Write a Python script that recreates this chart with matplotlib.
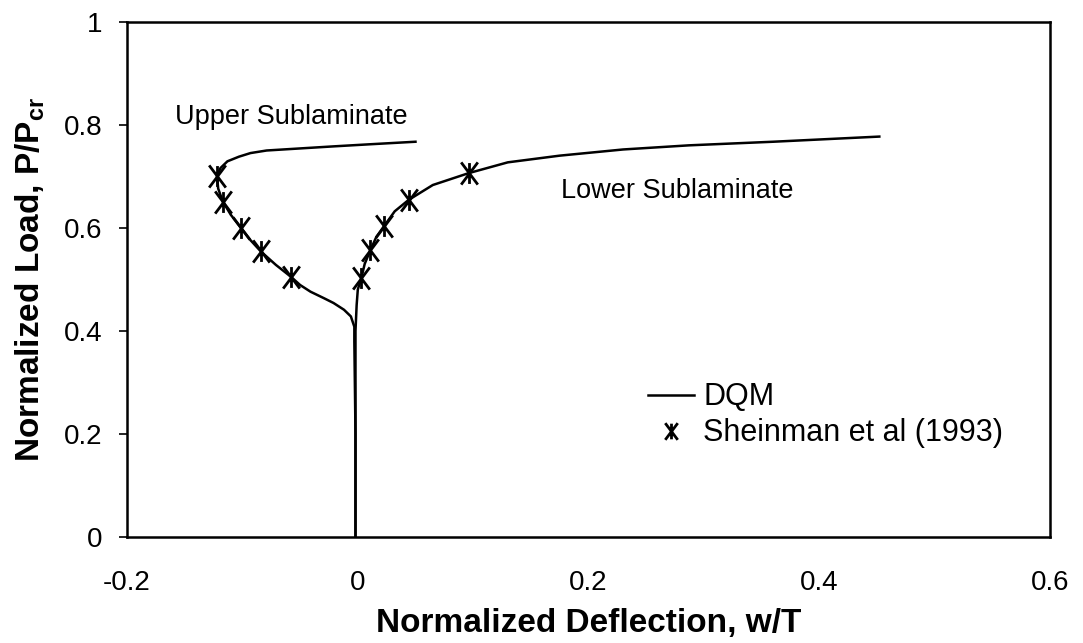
import matplotlib
matplotlib.use("Agg")
import matplotlib.pyplot as plt
from matplotlib.path import Path
from matplotlib.lines import Line2D

plt.rcParams['font.family'] = ['Liberation Sans', 'DejaVu Sans']
plt.rcParams['mathtext.fontset'] = 'custom'
plt.rcParams['mathtext.rm'] = 'Liberation Sans:bold'

# ---- data ----
upper_dqm_x = [-0.002, -0.002, -0.003, -0.003, -0.006, -0.012, -0.021, -0.029, -0.041, -0.050,
               -0.058, -0.071, -0.084, -0.093, -0.101, -0.110, -0.117, -0.121, -0.122,
               -0.119, -0.113, -0.103, -0.093, -0.079, -0.050, -0.021, 0.010, 0.050]
upper_dqm_y = [0.000, 0.200, 0.380, 0.408, 0.428, 0.441, 0.454, 0.463, 0.476, 0.489,
               0.505, 0.528, 0.554, 0.576, 0.599, 0.625, 0.651, 0.676, 0.700,
               0.716, 0.729, 0.738, 0.745, 0.750, 0.754, 0.758, 0.762, 0.767]

lower_dqm_x = [-0.002, -0.002, -0.002, -0.001, 0.000, 0.003, 0.006, 0.011, 0.016, 0.023,
               0.032, 0.044, 0.065, 0.096, 0.130, 0.175, 0.230, 0.287, 0.360, 0.452]
lower_dqm_y = [0.000, 0.200, 0.400, 0.450, 0.480, 0.502, 0.530, 0.557, 0.582, 0.604,
               0.632, 0.654, 0.683, 0.706, 0.727, 0.740, 0.752, 0.760, 0.767, 0.777]

upper_ref_x = [-0.122, -0.117, -0.101, -0.084, -0.058]
upper_ref_y = [0.701, 0.651, 0.599, 0.554, 0.505]
lower_ref_x = [0.003, 0.011, 0.023, 0.044, 0.096]
lower_ref_y = [0.502, 0.557, 0.604, 0.654, 0.706]

x_ticks = [-0.2, 0.0, 0.2, 0.4, 0.6]
x_tick_labels = ['-0.2', '0', '0.2', '0.4', '0.6']
y_ticks = [0.0, 0.2, 0.4, 0.6, 0.8, 1.0]
y_tick_labels = ['0', '0.2', '0.4', '0.6', '0.8', '1']

# ---- marker: X with vertical bar ----
star = Path([(-0.6, -0.8), (0.6, 0.8), (-0.6, 0.8), (0.6, -0.8), (0, -0.75), (0, 0.75)],
            [Path.MOVETO, Path.LINETO, Path.MOVETO, Path.LINETO, Path.MOVETO, Path.LINETO])

fig = plt.figure(figsize=(10.83, 6.43), dpi=100)
ax = fig.add_axes([0.1173, 0.1649, 0.8523, 0.8014])

ax.plot(upper_dqm_x, upper_dqm_y, color='black', lw=1.8, solid_joinstyle='round')
ax.plot(lower_dqm_x, lower_dqm_y, color='black', lw=1.8, solid_joinstyle='round')
ax.plot(upper_ref_x, upper_ref_y, ls='none', marker=star, ms=16, mew=2.0,
        mec='black', mfc='none')
ax.plot(lower_ref_x, lower_ref_y, ls='none', marker=star, ms=16, mew=2.0,
        mec='black', mfc='none')

ax.set_xlim(-0.2, 0.6)
ax.set_ylim(0, 1)
ax.set_xticks(x_ticks)
ax.set_xticklabels(x_tick_labels)
ax.set_yticks(y_ticks)
ax.set_yticklabels(y_tick_labels)
ax.tick_params(axis='x', length=0, pad=24, labelsize=20)
ax.tick_params(axis='y', length=6, width=1.2, direction='out', pad=12, labelsize=20)
for s in ax.spines.values():
    s.set_linewidth(1.8)
    s.set_color('black')

ax.set_xlabel('Normalized Deflection, w/T', fontsize=24, fontweight='bold', va='center')
ax.xaxis.set_label_coords(0.5, -0.168)
ax.set_ylabel('Normalized Load, P/P$_{\\mathregular{cr}}$', fontsize=24, fontweight='bold',
              va='center')
ax.yaxis.set_label_coords(-0.105, 0.5)

ax.text(-0.158, 0.802, 'Upper Sublaminate', fontsize=19.5, ha='left', va='baseline')
ax.text(0.176, 0.658, 'Lower Sublaminate', fontsize=19.5, ha='left', va='baseline')

handles = [Line2D([], [], color='black', lw=1.8),
           Line2D([], [], ls='none', marker=star, ms=12, mew=2.0, mec='black')]
ax.legend(handles, ['DQM', 'Sheinman et al (1993)'], loc='upper left',
          bbox_to_anchor=(0.5645, 0.30), frameon=False, fontsize=22,
          handlelength=1.5, handletextpad=0.3, labelspacing=0.2,
          borderpad=0, borderaxespad=0)

fig.savefig('out.png', dpi=100)
